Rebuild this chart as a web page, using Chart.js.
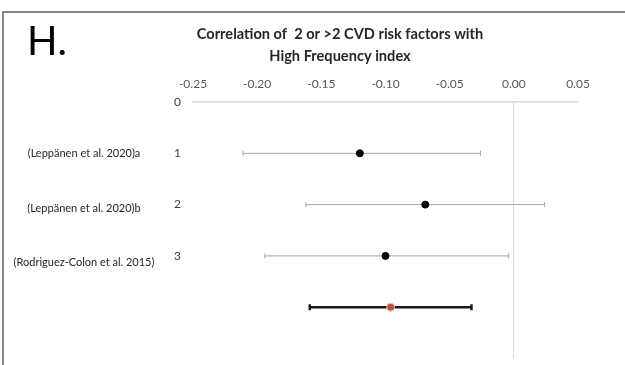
<!DOCTYPE html>
<html>
<head>
<meta charset="utf-8">
<script src="https://cdn.jsdelivr.net/npm/chart.js@4.4.1/dist/chart.umd.min.js"></script>
<style>
  body { margin: 0; background: #fff; }
  #wrap { width: 625px; height: 365px; position: relative; }
</style>
</head>
<body>
<div id="wrap"><canvas id="forest"></canvas></div>
<script>
// forest plot data
const studyRows = [1, 2, 3];
const studyLabels = ['(Leppänen et al. 2020)a', '(Leppänen et al. 2020)b', '(Rodriguez-Colon et al. 2015)'];
const estimates = [-0.120, -0.069, -0.100];
const lowerCI = [-0.211, -0.162, -0.194];
const upperCI = [-0.026, 0.024, -0.004];

const pooledRow = 4;
const pooledEstimate = -0.096;
const pooledLower = -0.159;
const pooledUpper = -0.033;

const yTickLabels = ['0', '1', '2', '3'];
const xMin = -0.25, xMax = 0.05, xStep = 0.05;

const titleLines = ['Correlation of  2 or >2 CVD risk factors with', 'High Frequency index'];
const panelLetter = 'H.';

var ciSets = studyRows.map((r, i) => ({
    data: [{x: lowerCI[i], y: r}, {x: upperCI[i], y: r}],
    showLine: true,
    borderColor: '#a6a6a6',
    borderWidth: 1,
    pointStyle: 'line',
    rotation: 90,
    pointRadius: 2.5,
    pointBorderColor: '#a6a6a6',
    pointBorderWidth: 1,
    order: 2
}));

var decor = {
    id: 'decor',
    beforeDraw(chart) {
        const ctx = chart.ctx;
        ctx.save();
        ctx.strokeStyle = '#868686';
        ctx.lineWidth = 2;
        ctx.beginPath();
        ctx.moveTo(3, 366);
        ctx.lineTo(3, 12);
        ctx.lineTo(626, 12);
        ctx.stroke();
        ctx.fillStyle = '#000';
        ctx.font = '40px Lato';
        ctx.textBaseline = 'alphabetic';
        ctx.textAlign = 'left';
        ctx.fillText(panelLetter, 27, 55);
        ctx.restore();
    },
    afterDraw(chart) {
        const ctx = chart.ctx;
        const y = chart.scales.y;
        const nudge = [0, 4, 7];
        ctx.save();
        ctx.fillStyle = '#262626';
        ctx.font = '11px Lato';
        ctx.textAlign = 'center';
        ctx.textBaseline = 'middle';
        studyLabels.forEach((lab, i) => {
            ctx.fillText(lab, 84, y.getPixelForValue(studyRows[i]) + nudge[i]);
        });
        ctx.restore();
    }
};

var forest = new Chart(document.getElementById('forest'), {
    type: 'scatter',
    data: {
        datasets: ciSets.concat([
            {
                data: [{x: pooledLower, y: pooledRow}, {x: pooledUpper, y: pooledRow}],
                showLine: true,
                borderColor: '#1a1a1a',
                borderWidth: 2.5,
                pointStyle: 'line',
                rotation: 90,
                pointRadius: 3,
                pointBorderColor: '#1a1a1a',
                pointBorderWidth: 2.5,
                order: 1
            },
            {
                data: studyRows.map((r, i) => ({x: estimates[i], y: r})),
                pointRadius: 3.5,
                backgroundColor: '#000',
                borderColor: '#000',
                order: 0
            },
            {
                data: [{x: pooledEstimate, y: pooledRow}],
                pointRadius: 4,
                backgroundColor: '#c0504d',
                borderColor: '#c8d99f',
                borderWidth: 1,
                order: 0
            }
        ])
    },
    options: {
        responsive: true,
        maintainAspectRatio: false,
        animation: false,
        layout: { padding: { left: 102, right: 47, top: 0, bottom: -2 } },
        plugins: {
            legend: { display: false },
            tooltip: { enabled: false },
            title: {
                display: true,
                text: titleLines,
                color: '#262626',
                font: { family: 'Lato', size: 14.6, weight: 'bold', lineHeight: 1.5 },
                padding: { top: 23, bottom: 0 }
            }
        },
        scales: {
            x: {
                type: 'linear',
                position: 'top',
                min: xMin,
                max: xMax,
                afterFit(s) { s.height = 35.2; s.paddingLeft = 0; s.paddingRight = 0; },
                afterBuildTicks(s) {
                    s.ticks = [];
                    for (let k = 0; k <= Math.round((xMax - xMin) / xStep); k++) {
                        s.ticks.push({ value: +(xMin + k * xStep).toFixed(2) });
                    }
                },
                ticks: {
                    color: '#595959',
                    font: { family: 'Lato', size: 12 },
                    padding: 11,
                    maxRotation: 0,
                    callback: v => Number(v).toFixed(2)
                },
                grid: {
                    drawTicks: false,
                    color: c => (c.tick && Math.abs(c.tick.value) < 1e-9) ? '#d9d9d9' : 'rgba(0,0,0,0)'
                },
                border: { display: true, color: '#d9d9d9', width: 1.5 }
            },
            y: {
                type: 'linear',
                reverse: true,
                min: 0,
                max: 5,
                afterFit(s) { s.width = 91; s.paddingTop = 0; s.paddingBottom = 0; },
                ticks: {
                    stepSize: 1,
                    color: '#404040',
                    font: { family: 'Lato', size: 12 },
                    padding: 12,
                    callback: v => (v < yTickLabels.length ? yTickLabels[v] : '')
                },
                grid: { display: false, drawTicks: false },
                border: { display: false }
            }
        }
    },
    plugins: [decor]
});
</script>
</body>
</html>
